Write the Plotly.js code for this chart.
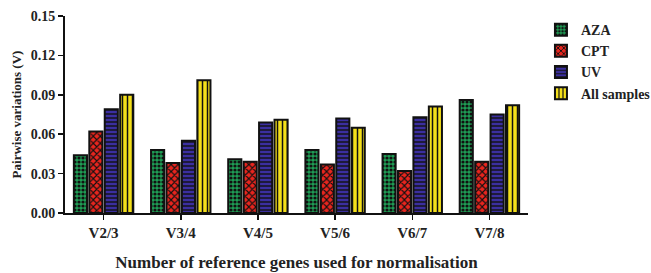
<!DOCTYPE html>
<html><head><meta charset="utf-8">
<script src="https://cdn.plot.ly/plotly-3.0.1.min.js"></script>
<style>html,body{margin:0;padding:0;background:#fff;}#chart{width:651px;height:273px;}</style>
</head><body><div id="chart"></div>
<script>
var categories = ["V2/3", "V3/4", "V4/5", "V5/6", "V6/7", "V7/8"];
var seriesNames = ["AZA", "CPT", "UV", "All samples"];
var aza = [0.044, 0.048, 0.041, 0.048, 0.045, 0.086];
var cpt = [0.062, 0.038, 0.039, 0.037, 0.032, 0.039];
var uv = [0.079, 0.055, 0.069, 0.072, 0.073, 0.075];
var allSamples = [0.090, 0.101, 0.071, 0.065, 0.081, 0.082];
var yTicks = [0, 0.03, 0.06, 0.09, 0.12, 0.15];
var yTickText = ["0.00", "0.03", "0.06", "0.09", "0.12", "0.15"];

var values = [aza, cpt, uv, allSamples];
var colors = ["#1e9e55", "#e8251e", "#3b2fa0", "#f5e01a"];
var shapes = [".", "x", "-", "|"];
var sizes = [4, 5, 4, 5];
var solid = [0.5, 0.4, 0.35, 0.3];

var traces = values.map(function (v, i) {
  return {
    type: "bar",
    name: seriesNames[i],
    x: categories,
    y: v,
    marker: {
      color: colors[i],
      line: { color: "#111", width: 2 },
      pattern: { shape: shapes[i], fgcolor: "#111", bgcolor: colors[i], size: sizes[i], solidity: solid[i] }
    }
  };
});

var font = { family: "Liberation Serif, Times New Roman, serif", color: "#222" };
var layout = {
  width: 651, height: 273,
  margin: { l: 65, r: 123, t: 16, b: 60, autoexpand: false },
  paper_bgcolor: "#fff", plot_bgcolor: "#fff",
  barmode: "group", bargap: 0.2, bargroupgap: 0.15,
  font: font,
  showlegend: true,
  legend: {
    x: 1.028, y: 1.01, xanchor: "left", yanchor: "top",
    font: { family: font.family, size: 14, color: "#222", weight: "bold" },
    tracegroupgap: 0, itemwidth: 30
  },
  xaxis: {
    range: [-0.5, 5.5],
    showline: true, linecolor: "#111", linewidth: 2,
    ticks: "outside", ticklen: 5, tickwidth: 1.5, tickcolor: "#111",
    tickfont: { family: font.family, size: 15, color: "#222", weight: "bold" },
    showgrid: false, zeroline: false,
    title: { text: "Number of reference genes used for normalisation", font: { family: font.family, size: 17, color: "#222", weight: "bold" }, standoff: 16 }
  },
  yaxis: {
    range: [0, 0.15],
    tickvals: yTicks, ticktext: yTickText,
    showline: true, linecolor: "#111", linewidth: 2,
    ticks: "outside", ticklen: 5, tickwidth: 1.5, tickcolor: "#111",
    tickfont: { family: font.family, size: 14, color: "#222", weight: "bold" },
    showgrid: false, zeroline: false,
    title: { text: "Pairwise variations (V)", font: { family: font.family, size: 13, color: "#222", weight: "bold" }, standoff: 6 }
  }
};
Plotly.newPlot("chart", traces, layout, { displayModeBar: false, staticPlot: true });
</script>
</body></html>
